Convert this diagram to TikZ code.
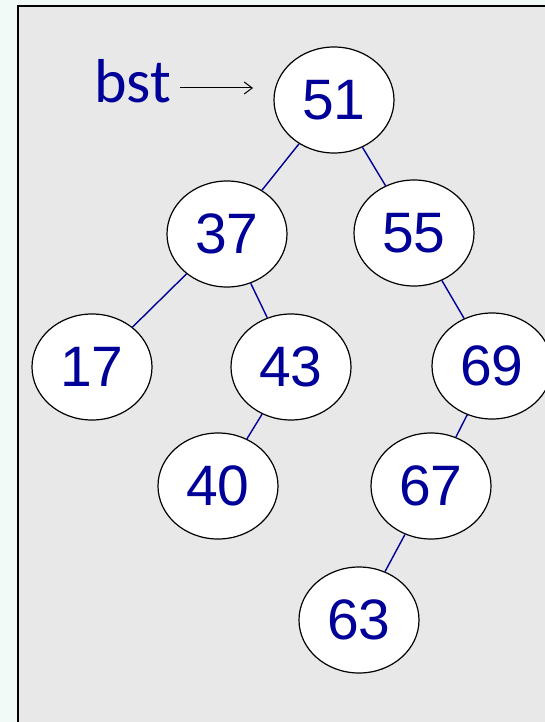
\documentclass[tikz,border=0pt]{standalone}
\usepackage{fontspec}
\setmainfont{Liberation Sans}
\newfontfamily\bstfont{Carlito}
\usetikzlibrary{shapes.geometric,arrows.meta}
\definecolor{navyblue}{RGB}{0,0,153}
\definecolor{outerbg}{RGB}{242,250,248}
\definecolor{panelgray}{RGB}{232,232,232}
\begin{document}
\begin{tikzpicture}[x=1pt,y=-1pt,
  treenode/.style={ellipse,draw=black,line width=1.2pt,fill=white,
    minimum width=120pt,minimum height=106pt,inner sep=0pt,
    text=navyblue,font=\fontsize{57}{60}\selectfont},
  treeedge/.style={draw=navyblue,line width=1.4pt}]
\useasboundingbox (0,0) rectangle (545,722);
\fill[outerbg] (0,0) rectangle (545,722);
\filldraw[fill=panelgray,draw=black,line width=1.6pt] (18,6) rectangle (560,740);
\node[treenode] (n51) at (334,100) {51};
\node[treenode] (n37) at (227,234) {37};
\node[treenode] (n55) at (414,233) {55};
\node[treenode] (n17) at (92,367) {17};
\node[treenode] (n43) at (291,367) {43};
\node[treenode] (n69) at (492,366) {69};
\node[treenode] (n40) at (218,486) {40};
\node[treenode] (n67) at (431,486) {67};
\node[treenode] (n63) at (359,620) {63};
\draw[treeedge] (n51) -- (n37);
\draw[treeedge] (n51) -- (n55);
\draw[treeedge] (n37) -- (n17);
\draw[treeedge] (n37) -- (n43);
\draw[treeedge] (n43) -- (n40);
\draw[treeedge] (n55) -- (n69);
\draw[treeedge] (n69) -- (n67);
\draw[treeedge] (n67) -- (n63);
\node[anchor=base west,inner sep=0pt,text=navyblue,font=\bstfont\fontsize{62}{66}\selectfont] (bst) at (94,103) {bst};
\coordinate (arrowstart) at (180,88);
\coordinate (arrowend) at (253,88);
\draw[black,line width=1pt,-{Straight Barb[length=8pt,width=12pt]}] (arrowstart) -- (arrowend);
\end{tikzpicture}
\end{document}
